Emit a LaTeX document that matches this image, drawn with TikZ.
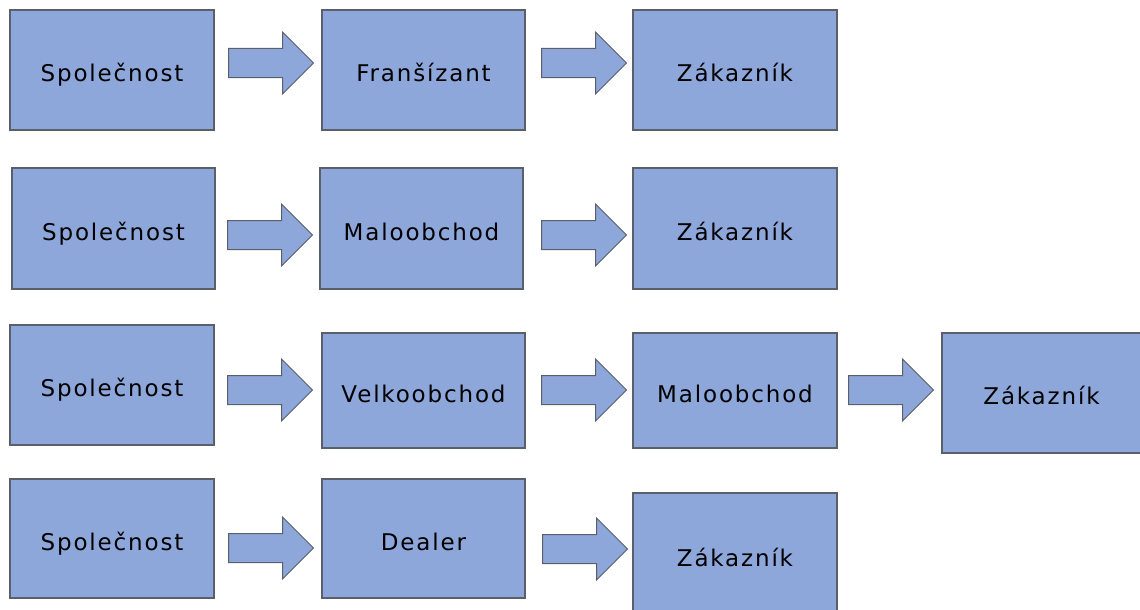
\documentclass[tikz,border=0pt]{standalone}
\usepackage{fontspec}
\setmainfont{DejaVu Sans}[LetterSpace=8]
\usetikzlibrary{shapes.arrows}
\definecolor{boxfill}{HTML}{8DA7DB}
\definecolor{boxline}{HTML}{5A5F6A}
\tikzset{
  stage/.style={draw=boxline, line width=1.2pt, fill=boxfill, inner sep=0pt, font=\fontsize{23}{26}\selectfont},
  flow/.style={single arrow, draw=boxline, line width=1pt, fill=boxfill, inner xsep=0pt, inner ysep=14pt,
    single arrow head extend=16.5pt, shape border rotate=0, minimum height=85pt, anchor=tail}
}
\newcommand{\stagebox}[6]{%
  \node[stage, minimum width={#4-#2}, minimum height={#5-#3}] (#1) at ({(#2+#4)/2},{(#3+#5)/2}) {\raisebox{-11.5pt}[0pt][0pt]{#6}};}
\begin{document}
\begin{tikzpicture}[x=1pt,y=-1pt]
\useasboundingbox (0,0) rectangle (1140,610);
\begin{scope}
\clip (0,0) rectangle (1140,610);
% row 1
\stagebox{a1}{10}{10}{214}{130}{Společnost}
\stagebox{b1}{322}{10}{525}{130}{Franšízant}
\stagebox{c1}{633}{10}{837}{130}{Zákazník}
% row 2
\stagebox{a2}{12}{168}{215}{289}{Společnost}
\stagebox{b2}{320}{168}{523}{289}{Maloobchod}
\stagebox{c2}{633}{168}{837}{289}{Zákazník}
% row 3
\stagebox{a3}{10}{325}{214}{445}{Společnost}
\stagebox{b3}{322}{333}{525}{448}{Velkoobchod}
\stagebox{c3}{633}{333}{837}{448}{Maloobchod}
\stagebox{d3}{942}{333}{1141}{453}{Zákazník}
% row 4
\stagebox{a4}{10}{479}{214}{598}{Společnost}
\stagebox{b4}{322}{479}{525}{598}{Dealer}
\stagebox{c4}{633}{493}{837}{616}{Zákazník}
\end{scope}
% arrows
\node[flow] (a1b1) at (228,63) {};
\node[flow] (b1c1) at (541,63) {};
\node[flow] (a2b2) at (227,235) {};
\node[flow] (b2c2) at (541,235) {};
\node[flow] (a3b3) at (227,390) {};
\node[flow] (b3c3) at (541,390) {};
\node[flow] (c3d3) at (848,390) {};
\node[flow] (a4b4) at (228,548) {};
\node[flow] (b4c4) at (542,549) {};
\end{tikzpicture}
\end{document}
